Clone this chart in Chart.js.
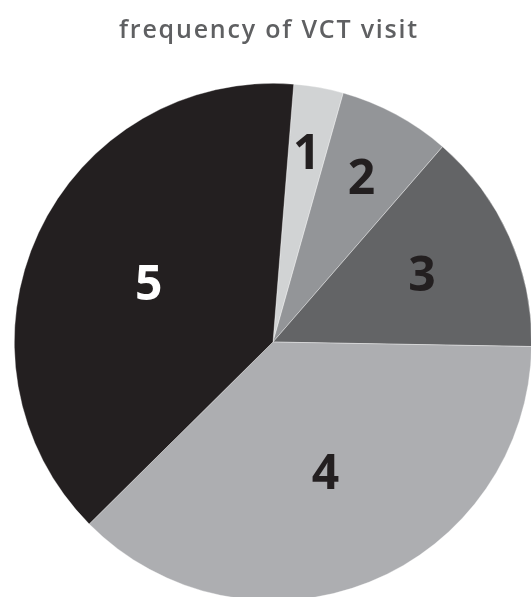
<!DOCTYPE html>
<html>
<head>
<meta charset="utf-8">
<script src="https://cdn.jsdelivr.net/npm/chart.js@4/dist/chart.umd.min.js"></script>
<style>
  html, body { margin: 0; padding: 0; background: #fff; overflow: hidden; }
  #wrap { position: absolute; left: 0; top: 0; width: 532px; height: 601px; }
</style>
</head>
<body>
<div id="wrap"><canvas id="pie" width="532" height="601"></canvas></div>
<script>
  // frequency of VCT visit, share per category
  const categories = ['1', '2', '3', '4', '5'];
  const shares = [3.1, 7.0, 13.9, 37.3, 38.7];
  const sliceColors = ['#d1d3d4', '#939598', '#636466', '#adaeb1', '#231f20'];
  const labelColors = ['#231f20', '#231f20', '#231f20', '#231f20', '#ffffff'];
  const labelRadius = [0.74, 0.72, 0.63, 0.545, 0.53];

  // draws the title and the big number on each slice
  const textPlugin = {
    id: 'textPlugin',
    afterDraw(chart) {
      const c = chart.ctx;
      c.save();
      c.fillStyle = '#5f6062';
      c.font = '600 25px "Open Sans"';
      c.letterSpacing = '1.8px';
      c.textAlign = 'center';
      c.textBaseline = 'alphabetic';
      c.fillText('frequency of VCT visit', 269, 38);
      c.letterSpacing = '0px';

      const arcs = chart.getDatasetMeta(0).data;
      c.font = 'bold 48px "Open Sans"';
      c.textBaseline = 'middle';
      arcs.forEach((arc, i) => {
        const mid = (arc.startAngle + arc.endAngle) / 2;
        const r = arc.outerRadius * labelRadius[i];
        c.fillStyle = labelColors[i];
        c.fillText(categories[i], arc.x + Math.cos(mid) * r, arc.y + Math.sin(mid) * r + 2);
      });
      c.restore();
    }
  };

  const ctx = document.getElementById('pie').getContext('2d');
  new Chart(ctx, {
    type: 'pie',
    data: {
      labels: categories,
      datasets: [{
        data: shares,
        backgroundColor: sliceColors,
        borderColor: 'rgba(255,255,255,0.6)',
        borderWidth: 0.6
      }]
    },
    options: {
      responsive: false,
      animation: false,
      rotation: 4.6,
      layout: { padding: { left: 14, top: 83, right: 0, bottom: 0 } },
      plugins: {
        legend: { display: false },
        title: { display: false },
        tooltip: { enabled: false }
      }
    },
    plugins: [textPlugin]
  });
</script>
</body>
</html>
